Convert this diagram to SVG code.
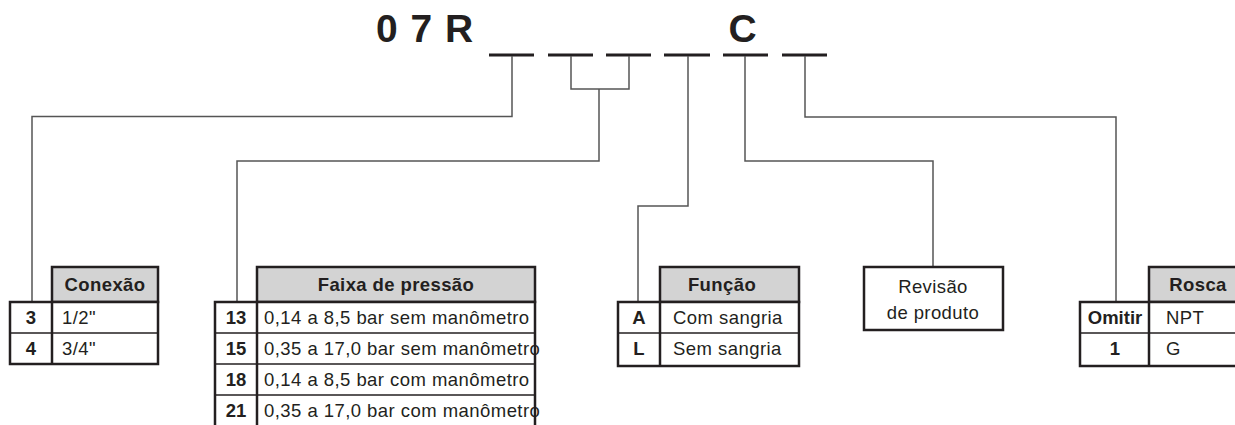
<svg xmlns="http://www.w3.org/2000/svg" width="1235" height="425" viewBox="0 0 1235 425">
<style>
text{font-family:"Liberation Sans",Arial,sans-serif;fill:#231f20}
.big{font-size:39px;font-weight:bold;letter-spacing:1px}
.h{font-size:18.5px;font-weight:bold;text-anchor:middle;letter-spacing:0.4px}
.k{font-size:18.5px;font-weight:bold;text-anchor:middle}
.v{font-size:18.5px;letter-spacing:0.45px}
.c{font-size:18.5px;text-anchor:middle;letter-spacing:0.4px}
.hd{fill:#d3d3d3;stroke:#231f20;stroke-width:2.5}
.bx{fill:#fff;stroke:#231f20;stroke-width:2.5}
.ln{stroke:#231f20;stroke-width:1.5}
.cn{fill:none;stroke:#555;stroke-width:1.5}
.dash{stroke:#231f20;stroke-width:3}
</style>
<rect width="1235" height="425" fill="#fff"/>
<g id="code">
<text class="big" x="376" y="42">0 7 R</text>
<text class="big" x="743" y="42" text-anchor="middle">C</text>
<line class="dash" x1="489" y1="55" x2="534" y2="55"/>
<line class="dash" x1="548" y1="55" x2="593" y2="55"/>
<line class="dash" x1="606" y1="55" x2="651" y2="55"/>
<line class="dash" x1="664" y1="55" x2="710" y2="55"/>
<line class="dash" x1="723" y1="55" x2="768" y2="55"/>
<line class="dash" x1="782" y1="55" x2="827" y2="55"/>
</g>
<g id="connectors">
<polyline class="cn" points="512,56 512,116.5 32,116.5 32,302"/>
<polyline class="cn" points="571,56 571,89 629,89 629,56"/>
<polyline class="cn" points="599,89 599,161 237,161 237,302"/>
<polyline class="cn" points="688,56 688,206 638,206 638,302"/>
<polyline class="cn" points="745,56 745,161 933,161 933,267"/>
<polyline class="cn" points="805,56 805,117 1116,117 1116,302"/>
</g>
<g id="conexao">
<rect class="hd" x="52" y="267" width="106" height="35"/>
<text class="h" x="105" y="291">Conexão</text>
<rect class="bx" x="10" y="302" width="148" height="62"/>
<line class="ln" x1="10" y1="333" x2="158" y2="333"/>
<line class="ln" x1="52" y1="302" x2="52" y2="364" style="stroke-width:2.5"/>
<text class="k" x="31" y="324">3</text><text class="v" x="62" y="324">1/2"</text>
<text class="k" x="31" y="355">4</text><text class="v" x="62" y="355">3/4"</text>
</g>
<g id="faixa">
<rect class="hd" x="257" y="267" width="278" height="35"/>
<text class="h" x="396" y="291">Faixa de pressão</text>
<rect class="bx" x="215" y="302" width="320" height="130"/>
<line class="ln" x1="215" y1="333" x2="535" y2="333"/>
<line class="ln" x1="215" y1="364" x2="535" y2="364"/>
<line class="ln" x1="215" y1="395" x2="535" y2="395"/>
<line class="ln" x1="257" y1="302" x2="257" y2="426" style="stroke-width:2.5"/>
<text class="k" x="236" y="324">13</text><text class="v" x="264" y="324">0,14 a 8,5 bar sem manômetro</text>
<text class="k" x="236" y="355">15</text><text class="v" x="264" y="355">0,35 a 17,0 bar sem manômetro</text>
<text class="k" x="236" y="386">18</text><text class="v" x="264" y="386">0,14 a 8,5 bar com manômetro</text>
<text class="k" x="236" y="417">21</text><text class="v" x="264" y="417">0,35 a 17,0 bar com manômetro</text>
</g>
<g id="funcao">
<rect class="hd" x="660" y="267" width="139" height="35"/>
<text class="h" x="722" y="291">Função</text>
<rect class="bx" x="618" y="302" width="181" height="64"/>
<line class="ln" x1="618" y1="333" x2="799" y2="333"/>
<line class="ln" x1="660" y1="302" x2="660" y2="366" style="stroke-width:2.5"/>
<text class="k" x="639" y="324">A</text><text class="v" x="673" y="324">Com sangria</text>
<text class="k" x="639" y="355">L</text><text class="v" x="673" y="355">Sem sangria</text>
</g>
<g id="revisao">
<rect class="bx" x="864" y="267" width="139" height="63"/>
<text class="c" x="933" y="293">Revisão</text>
<text class="c" x="933" y="319">de produto</text>
</g>
<g id="rosca">
<rect class="hd" x="1149" y="267" width="100" height="35"/>
<text class="h" x="1198" y="291">Rosca</text>
<rect class="bx" x="1080" y="302" width="170" height="64"/>
<line class="ln" x1="1080" y1="333" x2="1250" y2="333"/>
<line class="ln" x1="1149" y1="302" x2="1149" y2="366" style="stroke-width:2.5"/>
<text class="k" x="1115" y="324">Omitir</text><text class="v" x="1166" y="324">NPT</text>
<text class="k" x="1115" y="355">1</text><text class="v" x="1166" y="355">G</text>
</g>
</svg>
